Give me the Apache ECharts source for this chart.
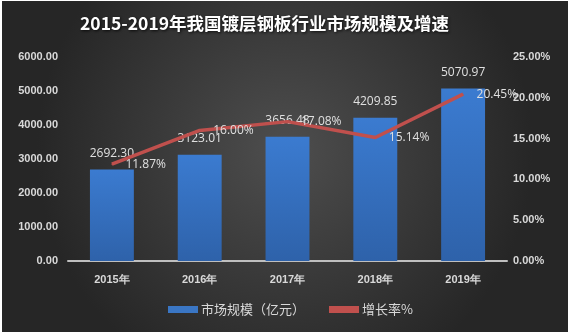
<!DOCTYPE html>
<html>
<head>
<meta charset="utf-8">
<script src="https://cdn.jsdelivr.net/npm/echarts@6/dist/echarts.min.js"></script>
<style>
  html, body { margin: 0; padding: 0; background: #ffffff; }
  #chart { position: absolute; left: 2px; top: 1px; width: 566px; height: 331px; }
</style>
</head>
<body>
<div id="chart"></div>
<script>
// Galvanized steel plate market in China, 2015-2019
const years = ['2015年', '2016年', '2017年', '2018年', '2019年'];
const marketSize = [2692.30, 3123.01, 3656.48, 4209.85, 5070.97];   // 亿元
const growthRate = [11.87, 16.00, 17.08, 15.14, 20.45];             // %

const chart = echarts.init(document.getElementById('chart'));
const axisFont = { color: '#d9d9d9', fontSize: 11, fontWeight: 'bold', fontFamily: 'Liberation Sans, Arial, sans-serif' };
const valueFont = { color: '#e0e0e0', fontSize: 12, fontFamily: 'Open Sans, DejaVu Sans, sans-serif' };

chart.setOption({
  backgroundColor: {
    type: 'radial', x: 0.5, y: 0.45, r: 0.75,
    colorStops: [
      { offset: 0, color: '#4e4e4e' },
      { offset: 1, color: '#262626' }
    ]
  },
  title: {
    text: '2015-2019年我国镀层钢板行业市场规模及增速',
    left: 73, top: 9,
    textStyle: {
      color: '#ffffff', fontSize: 17.5, fontWeight: 'bold',
      fontFamily: 'Noto Sans CJK SC, sans-serif',
      textShadowColor: 'rgba(0,0,0,0.8)', textShadowBlur: 3, textShadowOffsetX: 1, textShadowOffsetY: 1
    }
  },
  legend: {
    bottom: 11, left: 161, itemGap: 24,
    textStyle: { color: '#d9d9d9', fontSize: 13, fontFamily: 'Noto Sans CJK SC, sans-serif', padding: [0, 0, 0, -2] },
    data: [
      { name: '市场规模（亿元）', icon: 'rect', itemStyle: { color: '#3a76c4' } },
      { name: '增长率%', icon: 'rect', itemStyle: { color: '#c0504d' } }
    ],
    itemWidth: 30, itemHeight: 7
  },
  grid: { left: 66, right: 61, top: 56, bottom: 71 },
  xAxis: {
    type: 'category', data: years,
    axisLine: { lineStyle: { color: '#bfbfbf', width: 2 } },
    axisTick: { show: false },
    axisLabel: Object.assign({ margin: 13 }, axisFont)
  },
  yAxis: [
    {
      type: 'value', min: 0, max: 6000, interval: 1000,
      axisLabel: Object.assign({ formatter: v => v.toFixed(2), margin: 10 }, axisFont),
      splitLine: { show: false }, axisLine: { show: false }, axisTick: { show: false }
    },
    {
      type: 'value', min: 0, max: 25, interval: 5,
      axisLabel: Object.assign({ formatter: v => v.toFixed(2) + '%', margin: 6 }, axisFont),
      splitLine: { show: false }, axisLine: { show: false }, axisTick: { show: false }
    }
  ],
  series: [
    {
      name: '市场规模（亿元）', type: 'bar', data: marketSize, barWidth: '50%',
      itemStyle: {
        color: {
          type: 'linear', x: 0, y: 0, x2: 0, y2: 1,
          colorStops: [
            { offset: 0, color: '#3b7bd0' },
            { offset: 1, color: '#2e62aa' }
          ]
        }
      },
      label: Object.assign({
        show: true, position: 'top', distance: 10,
        formatter: p => p.value.toFixed(2)
      }, valueFont)
    },
    {
      name: '增长率%', type: 'line', yAxisIndex: 1, data: growthRate,
      symbol: 'circle', symbolSize: 1, showSymbol: true,
      lineStyle: { color: '#c0504d', width: 3.5 },
      itemStyle: { color: '#c0504d' },
      label: Object.assign({
        show: true, position: 'right', distance: 13,
        formatter: p => p.value.toFixed(2) + '%'
      }, valueFont),
      z: 3
    }
  ]
});
</script>
</body>
</html>
